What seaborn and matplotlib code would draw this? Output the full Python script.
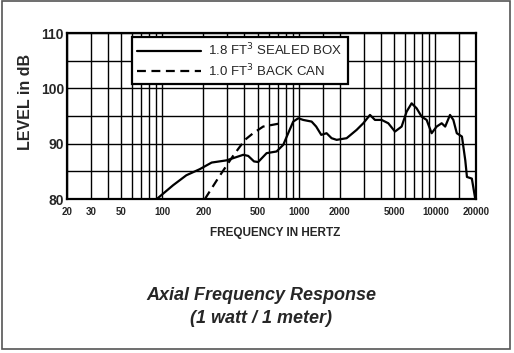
import numpy as np
import pandas as pd
import matplotlib
matplotlib.use("Agg")
import matplotlib.pyplot as plt
import seaborn as sns
from matplotlib.patches import Rectangle

# sealed box response (Hz, dB)
sealed_freq = [91, 120, 150, 188, 230, 296, 392, 426, 470, 504, 581, 687, 769, 836,
               910, 991, 1077, 1241, 1340, 1460, 1597, 1738, 1892, 2240, 2650, 2966,
               3320, 3610, 4040, 4520, 5060, 5660, 6160, 6700, 7290, 7930, 8630,
               9390, 10220, 11120, 11800, 12800, 13540, 14350, 15650, 16560, 17030,
               18500, 19600]
sealed_db = [80.0, 82.5, 84.3, 85.4, 86.6, 87.0, 88.0, 87.8, 86.8, 86.7, 88.3, 88.6,
             89.8, 91.9, 94.0, 94.6, 94.3, 94.0, 93.1, 91.6, 91.9, 91.0, 90.7, 91.0,
             92.5, 93.7, 95.2, 94.3, 94.3, 93.7, 92.2, 93.1, 95.8, 97.3, 96.4, 94.9,
             94.3, 91.9, 93.1, 93.7, 93.1, 95.2, 94.3, 91.9, 91.3, 87.0, 84.0, 83.7,
             80.0]

# back can response
backcan_freq = [205, 260, 330, 403, 463, 548, 740]
backcan_db = [80.0, 84.0, 87.8, 90.7, 91.9, 93.1, 93.7]

xticks = [20, 30, 50, 100, 200, 500, 1000, 2000, 5000, 10000, 20000]
yticks = [80, 90, 100, 110]
grid_x = [20, 30, 40, 50, 60, 70, 80, 90, 100, 200, 300, 400, 500, 600, 700, 800,
          900, 1000, 1500, 2000, 3000, 4000, 5000, 6000, 7000, 8000, 9000, 10000,
          15000, 20000]
grid_y = [80, 85, 90, 95, 100, 105, 110]

sns.set_style("white")
plt.rcParams['font.family'] = ['Liberation Sans', 'DejaVu Sans']

df_sealed = pd.DataFrame({"freq": sealed_freq, "db": sealed_db})
df_back = pd.DataFrame({"freq": backcan_freq, "db": backcan_db})

fig = plt.figure(figsize=(5.14, 3.53), dpi=100)
ax = fig.add_axes([0.130, 0.436, 0.797, 0.4705])

for g in grid_x:
    ax.axvline(g, color="black", lw=1.0, zorder=1)
for g in grid_y:
    ax.axhline(g, color="black", lw=1.0, zorder=1)

sns.lineplot(data=df_sealed, x="freq", y="db", ax=ax, color="black", lw=1.6,
             label="1.8 FT$^3$ SEALED BOX", sort=False, zorder=3)
sns.lineplot(data=df_back, x="freq", y="db", ax=ax, color="black", lw=1.6,
             linestyle=(0, (4, 2.5)), label="1.0 FT$^3$ BACK CAN", sort=False, zorder=3)

ax.set_xscale("log")
ax.set_xlim(20, 20000)
ax.set_ylim(80, 110)
ax.set_xticks(xticks)
ax.set_xticklabels([str(t) for t in xticks], fontsize=7, fontweight="bold")
ax.minorticks_off()
ax.set_yticks(yticks)
ax.set_yticklabels([str(t) for t in yticks], fontsize=10, fontweight="bold")
ax.tick_params(axis="x", length=0, pad=6)
ax.tick_params(axis="y", length=0, pad=2)
ax.set_xlabel("FREQUENCY IN HERTZ", fontsize=8.5, fontweight="bold")
ax.xaxis.set_label_coords(0.508, -0.17)
ax.set_ylabel("LEVEL in dB", fontsize=11.5, fontweight="bold")
ax.yaxis.set_label_coords(-0.083, 0.584)
for s in ax.spines.values():
    s.set_color("black")
    s.set_linewidth(1.6)

leg = ax.legend(loc="upper left", bbox_to_anchor=(0.159, 0.978), fontsize=9.5,
                handlelength=4.8, handletextpad=0.6, frameon=True, fancybox=False,
                borderpad=0.4, labelspacing=0.3, borderaxespad=0)
leg.get_frame().set_edgecolor("black")
leg.get_frame().set_linewidth(1.6)
leg.get_frame().set_alpha(1)
leg.set_zorder(5)

fig.text(0.508, 0.164, "Axial Frequency Response", ha="center", va="center",
         fontsize=13, style="italic", fontweight="bold")
fig.text(0.508, 0.099, "(1 watt / 1 meter)", ha="center", va="center",
         fontsize=13, style="italic", fontweight="bold")

fig.patches.append(Rectangle((0.004, 0.012), 0.988, 0.984, transform=fig.transFigure,
                             fill=False, edgecolor="#555555", lw=1.2))

fig.savefig("out.png", dpi=100)
